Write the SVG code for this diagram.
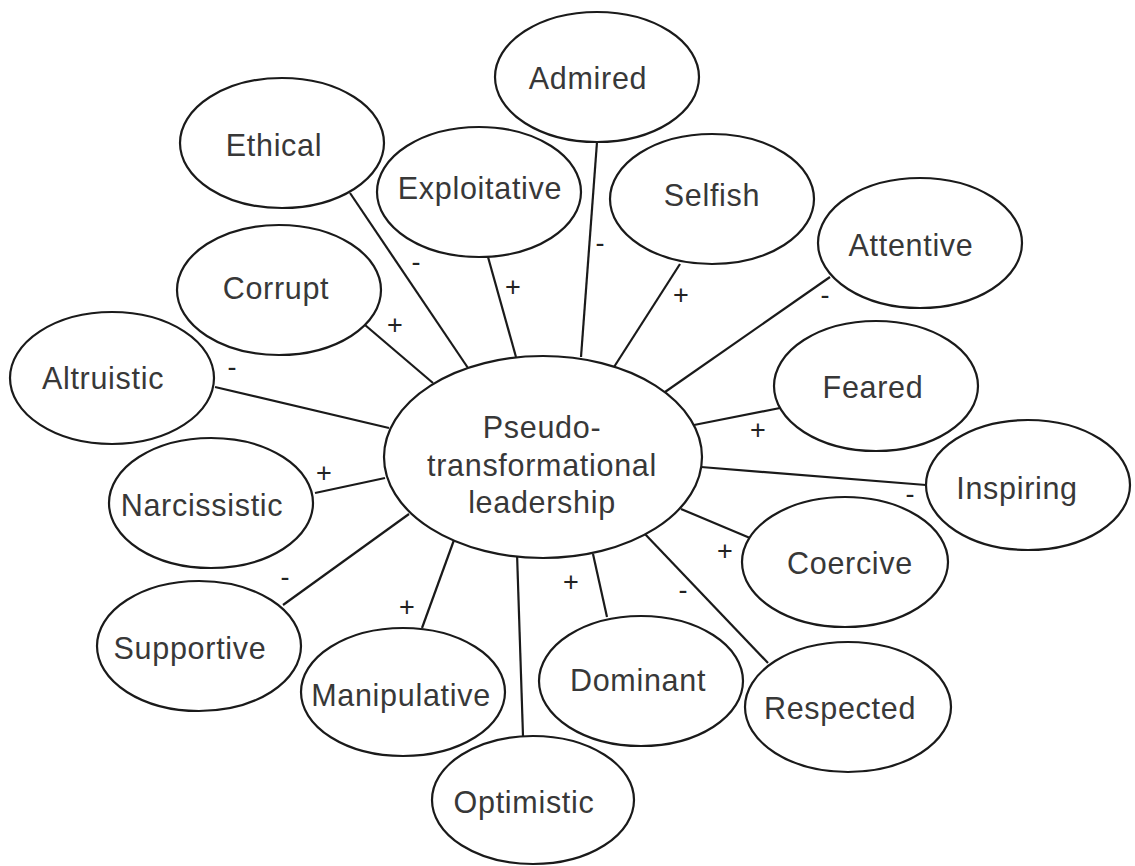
<svg xmlns="http://www.w3.org/2000/svg" width="1135" height="866" viewBox="0 0 1135 866">
<style>
.n ellipse{fill:#fff;stroke:#1a1a1a;stroke-width:2.2}
.n text{font-family:"Liberation Sans",Arial,sans-serif;font-size:30.5px;letter-spacing:0.7px;fill:#383838;text-anchor:middle;dominant-baseline:central}
.c line{stroke:#1a1a1a;stroke-width:2.2}
.s{font-family:"Liberation Sans",Arial,sans-serif;font-size:27px;fill:#222;text-anchor:middle;dominant-baseline:central}
</style>
<rect width="1135" height="866" fill="#fff"/>
<g id="connectors" class="c">
<line x1="350" y1="193" x2="468" y2="368"/>
<line x1="488" y1="257" x2="516" y2="357"/>
<line x1="365" y1="325" x2="433" y2="383"/>
<line x1="215" y1="387" x2="389" y2="428"/>
<line x1="597" y1="142" x2="581" y2="357"/>
<line x1="680" y1="264" x2="614" y2="367"/>
<line x1="830" y1="277" x2="665" y2="392"/>
<line x1="780" y1="408" x2="694" y2="425"/>
<line x1="315" y1="493" x2="385" y2="478"/>
<line x1="283" y1="605" x2="409" y2="514"/>
<line x1="422" y1="628" x2="454" y2="540"/>
<line x1="523" y1="736" x2="517" y2="553"/>
<line x1="607" y1="617" x2="593" y2="554"/>
<line x1="768" y1="663" x2="644" y2="533"/>
<line x1="750" y1="538" x2="681" y2="509"/>
<line x1="926" y1="485" x2="701" y2="467"/>
<text class="s" x="416" y="262">-</text>
<text class="s" x="513" y="287">+</text>
<text class="s" x="395" y="325">+</text>
<text class="s" x="232" y="367">-</text>
<text class="s" x="600" y="243">-</text>
<text class="s" x="681" y="295">+</text>
<text class="s" x="825" y="295">-</text>
<text class="s" x="758" y="430">+</text>
<text class="s" x="324" y="473">+</text>
<text class="s" x="285" y="577">-</text>
<text class="s" x="407" y="607">+</text>
<text class="s" x="571" y="582">+</text>
<text class="s" x="683" y="590">-</text>
<text class="s" x="725" y="551">+</text>
<text class="s" x="910" y="494">-</text>
</g>
<g id="center" class="n"><ellipse cx="543" cy="457" rx="159" ry="101"/><text x="542" y="427">Pseudo-</text><text x="542" y="465">transformational</text><text x="542" y="502">leadership</text></g>
<g id="ethical" class="n"><ellipse cx="282" cy="143" rx="102" ry="65"/><text x="274" y="145">Ethical</text></g>
<g id="exploitative" class="n"><ellipse cx="479" cy="192" rx="102" ry="65"/><text x="480" y="188">Exploitative</text></g>
<g id="corrupt" class="n"><ellipse cx="279" cy="290" rx="102" ry="65"/><text x="276" y="288">Corrupt</text></g>
<g id="altruistic" class="n"><ellipse cx="112" cy="378" rx="102" ry="66"/><text x="103" y="378">Altruistic</text></g>
<g id="admired" class="n"><ellipse cx="597" cy="77" rx="102" ry="65"/><text x="588" y="78">Admired</text></g>
<g id="selfish" class="n"><ellipse cx="712" cy="199" rx="102" ry="65"/><text x="712" y="195">Selfish</text></g>
<g id="attentive" class="n"><ellipse cx="920" cy="243" rx="102" ry="65"/><text x="911" y="245">Attentive</text></g>
<g id="feared" class="n"><ellipse cx="876" cy="386" rx="102" ry="65"/><text x="873" y="387">Feared</text></g>
<g id="inspiring" class="n"><ellipse cx="1028" cy="485" rx="102" ry="65"/><text x="1017" y="488">Inspiring</text></g>
<g id="narcissistic" class="n"><ellipse cx="211" cy="503" rx="102" ry="65"/><text x="202" y="505">Narcissistic</text></g>
<g id="coercive" class="n"><ellipse cx="845" cy="562" rx="103" ry="65"/><text x="850" y="563">Coercive</text></g>
<g id="supportive" class="n"><ellipse cx="199" cy="646" rx="102" ry="65"/><text x="190" y="648">Supportive</text></g>
<g id="manipulative" class="n"><ellipse cx="403" cy="692" rx="102" ry="64"/><text x="401" y="695">Manipulative</text></g>
<g id="dominant" class="n"><ellipse cx="641" cy="681" rx="102" ry="65"/><text x="638" y="680">Dominant</text></g>
<g id="respected" class="n"><ellipse cx="848" cy="707" rx="103" ry="65"/><text x="840" y="708">Respected</text></g>
<g id="optimistic" class="n"><ellipse cx="533" cy="800" rx="101" ry="64"/><text x="524" y="802">Optimistic</text></g>
</svg>
